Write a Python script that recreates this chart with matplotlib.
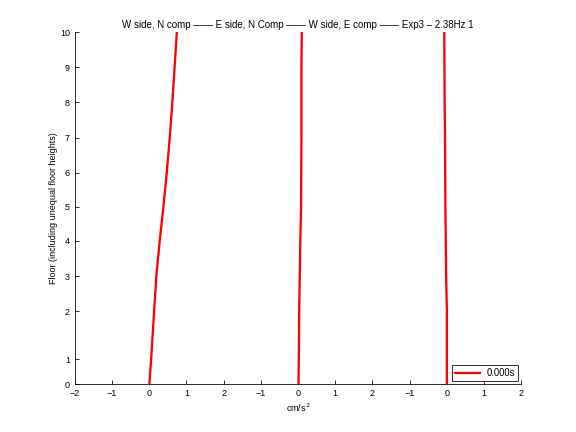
import matplotlib
matplotlib.use('Agg')
import matplotlib.pyplot as plt

plt.rcParams['font.family'] = ['Liberation Sans', 'DejaVu Sans']

# floor elevations (m), unequal floor heights
floor_elev = [0.0, 3.0, 8.8, 13.0, 17.2, 21.3, 25.4, 29.6, 33.8, 38.0, 42.2]
floor_labels = ['0', '1', '2', '3', '4', '5', '6', '7', '8', '9', '10']

# peak acceleration profiles at t = 0.000s (cm/s^2)
w_side_n = [0.0, 0.05, 0.13, 0.19, 0.28, 0.38, 0.47, 0.55, 0.62, 0.68, 0.74]
e_side_n = [0.01, 0.02, 0.03, 0.045, 0.06, 0.08, 0.085, 0.09, 0.09, 0.09, 0.1]
w_side_e = [0.0, 0.0, 0.0, -0.02, -0.03, -0.04, -0.045, -0.05, -0.06, -0.065, -0.07]

# each panel is shifted along x
panel_offsets = [0, 4, 8]
x_ticks = [-2, -1, 0, 1, 2, 3, 4, 5, 6, 7, 8, 9, 10]
x_tick_labels = ['\u22122', '\u22121', '0', '1', '2', '\u22121', '0', '1', '2', '\u22121', '0', '1', '2']

fig = plt.figure(figsize=(8, 6), dpi=72)
ax = fig.add_axes([0.13, 0.11, 0.775, 0.815])

series = [w_side_n, e_side_n, w_side_e]
for i, (vals, off) in enumerate(zip(series, panel_offsets)):
    xs = [v + off for v in vals]
    ax.plot(xs, floor_elev, color='red', linewidth=2.3, label='0.000s' if i == 0 else None)

ax.set_xlim(-2, 10)
ax.set_ylim(floor_elev[0], floor_elev[-1])
ax.set_xticks(x_ticks)
ax.set_xticklabels(x_tick_labels)
ax.set_yticks(floor_elev)
ax.set_yticklabels(floor_labels)

ax.spines['top'].set_visible(False)
ax.spines['right'].set_visible(False)
ax.tick_params(direction='in', length=4, width=0.8, labelsize=9, pad=5)

ax.set_title('W side, N comp \u2014\u2014 E side, N Comp \u2014\u2014 W side, E comp \u2014\u2014 Exp3 \u2013 2.38Hz 1',
             fontsize=9.7, pad=4)
ax.set_xlabel('cm/s$^2$', fontsize=9, labelpad=3)
ax.set_ylabel('Floor (including unequal floor heights)', fontsize=9, labelpad=2)

leg = ax.legend(loc='lower right', fontsize=9.5, fancybox=False, framealpha=1, edgecolor='black',
                handlelength=2.6, borderpad=0.3, borderaxespad=0.35, handletextpad=0.7)
leg.get_frame().set_linewidth(0.8)

fig.savefig('out.png', dpi=72)
